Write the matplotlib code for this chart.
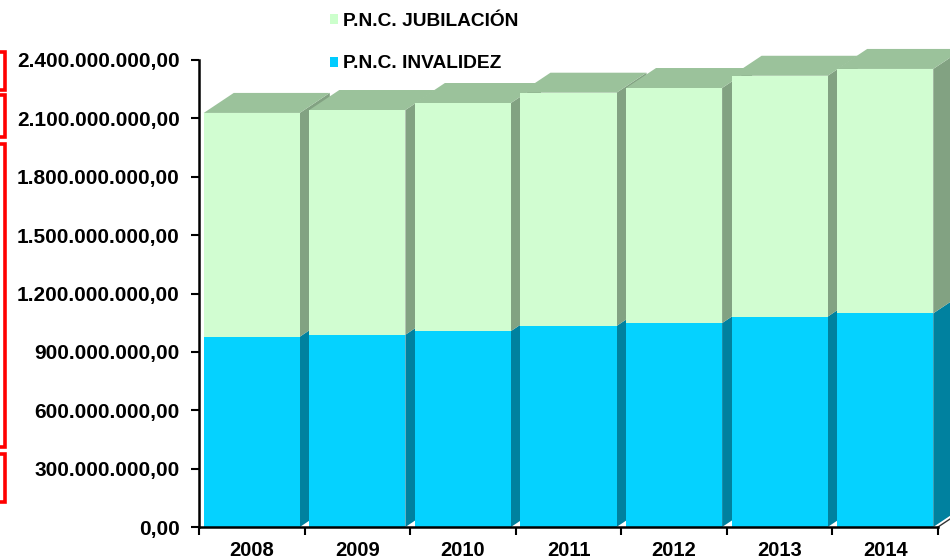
import matplotlib
matplotlib.use('Agg')
import matplotlib.pyplot as plt
from matplotlib.patches import Polygon, Rectangle
from matplotlib.ticker import FuncFormatter

plt.rcParams['font.family'] = ['Liberation Sans', 'DejaVu Sans']
plt.rcParams['font.weight'] = 'bold'

# data
years = ['2008', '2009', '2010', '2011', '2012', '2013', '2014']
invalidez = [978e6, 988e6, 1007e6, 1033e6, 1048e6, 1081e6, 1098e6]
jubilacion = [1150e6, 1155e6, 1172e6, 1199e6, 1208e6, 1238e6, 1256e6]
y_ticks = [0, 3e8, 6e8, 9e8, 12e8, 15e8, 18e8, 21e8, 24e8]

W, H = 950, 560
fig = plt.figure(figsize=(W / 100, H / 100), dpi=100)
ax = fig.add_axes([199 / W, 33 / H, 739 / W, 467 / H])
ax.set_xlim(0, len(years))
ax.set_ylim(0, 2.4e9)

bar_w = 0.91
dx = 30 / 739 * len(years)      # depth offset, data units
dy = 20 / 467 * 2.4e9

inv_front, inv_side = '#05D2FF', '#00819F'
jub_front, jub_side, jub_top = '#D1FDD1', '#82A282', '#9BC29B'


def segment(x0, y0, h, front, side, top=None):
    x1 = x0 + bar_w
    ax.add_patch(Polygon([(x1, y0), (x1 + dx, y0 + dy), (x1 + dx, y0 + h + dy), (x1, y0 + h)],
                         closed=True, fc=side, ec='none', zorder=2, clip_on=False))
    if top is not None:
        ax.add_patch(Polygon([(x0, y0 + h), (x0 + dx, y0 + h + dy),
                              (x1 + dx, y0 + h + dy), (x1, y0 + h)],
                             closed=True, fc=top, ec='none', zorder=2, clip_on=False))
    ax.add_patch(Rectangle((x0, y0), bar_w, h, fc=front, ec='none', zorder=2, clip_on=False))


for i in range(len(years)):
    x0 = i + (1 - bar_w) / 2
    segment(x0, 0, invalidez[i], inv_front, inv_side)
    segment(x0, invalidez[i], jubilacion[i], jub_front, jub_side, jub_top)

# floor edge on the right
ax.plot([len(years), len(years) + dx * 0.4], [0, dy * 0.4], color='#333333', lw=1,
        clip_on=False, zorder=3)

for s in ['top', 'right']:
    ax.spines[s].set_visible(False)
for s in ['left', 'bottom']:
    ax.spines[s].set_linewidth(1.8)
    ax.spines[s].set_zorder(4)


def fmt(v, pos):
    s = f'{v:,.2f}'
    return s.replace(',', 'X').replace('.', ',').replace('X', '.')


ax.set_yticks(y_ticks)
ax.yaxis.set_major_formatter(FuncFormatter(fmt))
ax.tick_params(axis='y', direction='out', length=6, width=1.5, pad=8, labelsize=15)

ax.set_xticks(range(len(years) + 1))
ax.set_xticklabels([])
ax.set_xticks([i + 0.5 for i in range(len(years))], minor=True)
ax.set_xticklabels(years, minor=True)
ax.tick_params(axis='x', which='major', direction='out', length=6, width=1.5)
ax.tick_params(axis='x', which='minor', length=0, pad=10, labelsize=14.5)

# legend
fig.add_artist(Rectangle((330 / W, 1 - 24 / H), 8 / W, 10 / H, transform=fig.transFigure,
                         fc='#CCFFCC', ec='none'))
fig.add_artist(Rectangle((330 / W, 1 - 67 / H), 8 / W, 10 / H, transform=fig.transFigure,
                         fc='#00CCFF', ec='none'))
fig.text(343 / W, 1 - 26 / H, 'P.N.C. JUBILACIÓN', fontsize=13.8, fontweight='bold', va='baseline')
fig.text(343 / W, 1 - 68 / H, 'P.N.C. INVALIDEZ', fontsize=13.8, fontweight='bold', va='baseline')

# red boxes at the left edge
for top, bot in [(52, 90), (95, 137), (144, 447), (454, 502)]:
    fig.add_artist(Rectangle((-20 / W, 1 - bot / H), 24.5 / W, (bot - top) / H,
                             transform=fig.transFigure, fill=False, ec='#FF0000', lw=2.6))

fig.savefig('out.png', dpi=100)
